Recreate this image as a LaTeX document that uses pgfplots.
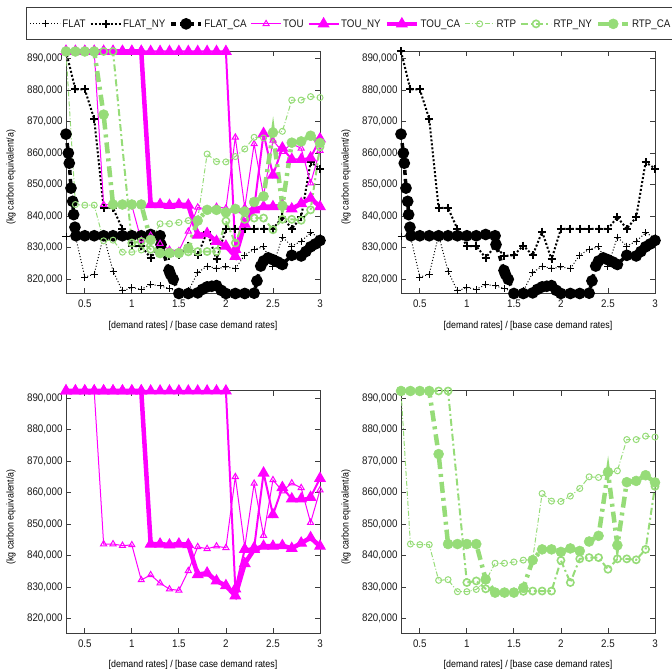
\documentclass[border=0pt]{standalone}
\usepackage{fontspec}
\setmainfont{Liberation Sans}[FakeStretch=0.89]
\usepackage{pgfplots}
\usepackage{pgfplotstable}
\pgfplotsset{compat=1.18}

\definecolor{mag}{RGB}{255,0,255}
\definecolor{grn}{RGB}{150,220,120}
\definecolor{axgray}{RGB}{60,60,60}

\pgfplotstableread{
x y
0.3 833700
0.4 833700
0.5 820700
0.6 821600
0.7 834000
0.8 822600
0.9 816300
1.0 817400
1.1 816800
1.2 818400
1.3 817900
1.4 817100
1.5 815800
1.6 816300
1.7 822100
1.8 824200
1.9 823400
2.0 823900
2.1 823400
2.2 827700
2.3 829500
2.4 830300
2.5 824200
2.6 833400
2.7 830500
2.8 832100
2.9 834700
3.0 833200
}\tFLAT

\pgfplotstableread{
x y
0.3 892200
0.4 880200
0.5 880200
0.6 870800
0.7 842600
0.8 842600
0.9 835900
1.0 830500
1.1 830500
1.2 826800
1.3 830500
1.4 827400
1.5 827600
1.6 830700
1.7 827600
1.8 835100
1.9 826300
2.0 836000
2.1 836000
2.2 836000
2.3 836000
2.4 836000
2.5 836000
2.6 839700
2.7 836000
2.8 839700
2.9 857100
3.0 855100
}\tFLATNY

\pgfplotstableread{
x y
0.300 866000
0.325 860000
0.335 856800
0.353 848900
0.371 844700
0.381 840500
0.395 836500
0.406 833800
0.5 833800
0.6 833800
0.7 833800
0.8 833800
0.9 833800
1.0 833800
1.1 833800
1.2 834200
1.3 833800
1.31 831000
1.395 822800
1.41 821600
1.44 820000
1.5 815500
1.6 815500
1.7 815700
1.75 816800
1.8 817600
1.85 817800
1.9 818000
1.95 816500
2.0 815500
2.1 815500
2.2 815500
2.3 815600
2.33 819500
2.37 824200
2.4 825800
2.45 826800
2.5 826200
2.55 825500
2.6 824700
2.7 827600
2.8 827400
2.85 828800
2.9 830300
2.95 831200
3.0 832300
}\tFLATCA

\pgfplotstableread{
x y
0.3 892200
0.4 892200
0.5 892200
0.6 892200
0.7 843700
0.8 843700
0.9 843200
1.0 843400
1.1 832300
1.2 833900
1.3 831300
1.4 829400
1.5 829000
1.6 835200
1.7 842800
1.8 842200
1.9 843000
2.0 842500
2.1 865000
2.2 842700
2.3 862900
2.4 846400
2.5 864000
2.6 860500
2.7 863000
2.8 861500
2.9 850500
3.0 860800
}\tTOU

\pgfplotstableread{
x y
0.3 892200
0.4 892200
0.5 892200
0.6 892200
0.7 892200
0.8 892200
0.9 892200
1.0 892200
1.1 892200
1.2 892200
1.3 892200
1.4 892200
1.5 892200
1.6 892200
1.7 892200
1.8 892200
1.9 892200
2.0 892200
2.1 829500
2.2 842000
2.3 842500
2.4 866200
2.5 853000
2.6 861600
2.7 858000
2.8 858000
2.9 858500
3.0 864500
}\tTOUNY

\pgfplotstableread{
x y
0.3 892200
0.4 892200
0.5 892200
0.6 892200
0.7 892200
0.8 892200
0.9 892200
1.0 892200
1.1 892200
1.2 843700
1.3 843700
1.4 843400
1.5 843700
1.6 843500
1.7 834000
1.8 834500
1.9 832000
2.0 830500
2.1 827300
2.2 837500
2.3 842000
2.4 843000
2.5 843000
2.6 843200
2.7 842300
2.8 844000
2.9 845700
3.0 843000
}\tTOUCA

\pgfplotstableread{
x y
0.3 892200
0.4 843700
0.5 843500
0.6 843500
0.7 832200
0.8 832400
0.9 828600
1.0 828600
1.1 829300
1.2 832000
1.3 837600
1.4 837600
1.5 838000
1.6 838600
1.7 839000
1.8 859700
1.9 857300
2.0 857200
2.1 858900
2.2 861300
2.3 865000
2.4 864800
2.5 866300
2.6 866900
2.7 876800
2.8 876800
2.9 877900
3.0 877600
}\tRTP

\pgfplotstableread{
x y
0.3 892200
0.4 892200
0.5 892200
0.6 892200
0.7 892200
0.8 892200
1.0 831500
1.1 832000
1.2 829500
1.3 828500
1.4 828500
1.5 828500
1.6 828700
1.7 828800
1.8 828800
1.9 828800
2.0 838500
2.1 831500
2.2 839000
2.3 839400
2.4 839400
2.5 835700
2.6 839000
2.7 839000
2.8 838700
2.9 842000
3.0 862000
}\tRTPNY

\pgfplotstableread{
x y
0.3 892200
0.4 892200
0.5 892200
0.6 892200
0.7 872200
0.8 843700
0.9 843700
1.0 843700
1.1 843700
1.2 832500
1.3 828300
1.4 828300
1.5 828300
1.6 829800
1.7 838600
1.8 842000
1.9 842000
2.0 841200
2.1 842300
2.2 841500
2.3 844500
2.4 846300
2.5 866500
2.6 843300
2.7 863300
2.8 863700
2.9 865500
3.0 863200
}\tRTPCA

\pgfplotsset{
  sFLAT/.style={black, line width=1bp, dash pattern=on 1bp off 2bp, mark=+, mark size=3.5bp, mark options={solid, line width=1bp}},
  sFLATNY/.style={black, line width=2bp, dash pattern=on 2bp off 2bp, mark=+, mark size=4bp, mark options={solid, line width=2bp}},
  sFLATCA/.style={black, line width=3.5bp, dash pattern=on 5bp off 4bp, mark=*, mark size=4bp, mark options={solid, fill=black}},
  sTOU/.style={mag, line width=1bp, solid, mark=triangle, mark size=3.5bp, mark options={solid, line width=1bp}},
  sTOUNY/.style={mag, line width=2bp, solid, mark=triangle*, mark size=5bp, mark options={solid, fill=mag}},
  sTOUCA/.style={mag, line width=4.5bp, solid, mark=triangle*, mark size=6bp, mark options={solid, fill=mag, line width=1bp}},
  sRTP/.style={grn, line width=1bp, dash pattern=on 5bp off 2bp on 1bp off 2bp, mark=o, mark size=3bp, mark options={solid, line width=1bp}},
  sRTPNY/.style={grn, line width=2bp, dash pattern=on 7bp off 3bp on 2bp off 3bp, mark=o, mark size=3.6bp, mark options={solid, line width=1.6bp}},
  sRTPCA/.style={grn, line width=4.5bp, dash pattern=on 11bp off 5bp on 3bp off 5bp, mark=*, mark size=5bp, mark options={solid, fill=grn, line width=0.5bp}},
  panel/.style={
    scale only axis, width=254bp, height=242bp,
    anchor=south west,
    xmin=0.3, xmax=3, ymin=815500, ymax=892200,
    clip=false,
    scaled y ticks=false, scaled x ticks=false,
    xtick={0.5,1,1.5,2,2.5,3},
    xticklabels={0.5,1,1.5,2,2.5,3},
    ytick={820000,830000,840000,850000,860000,870000,880000,890000},
    yticklabels={{820,000},{830,000},{840,000},{850,000},{860,000},{870,000},{880,000},{890,000}},
    tick align=inside,
    major tick length=5bp,
    tick style={draw=axgray, line width=0.8bp},
    axis line style={draw=axgray, line width=1bp},
    tick label style={font=\fontsize{11bp}{12bp}\selectfont, text=black!90},
    x tick label style={yshift=-3bp},
    label style={font=\fontsize{11bp}{12bp}\selectfont, text=black!90},
    every axis x label/.style={at={(axis description cs:0.5,0)}, anchor=center, yshift=-32bp},
    every axis y label/.style={at={(axis description cs:-0.2165,0.48)}, rotate=90, anchor=center},
    xlabel={\relax[demand rates] / [base case demand rates]},
    ylabel={(kg carbon equivalent/a)},
    legend image code/.code={\draw[mark repeat=2,mark phase=2,##1] plot coordinates {(0bp,0bp) (15bp,0bp) (30bp,0bp)};},
  },
}

\begin{document}
\begin{tikzpicture}
\path[use as bounding box] (0,0) rectangle (672bp,669bp);

% top left: all
\begin{axis}[panel, at={(66bp,375.5bp)},
  legend columns=9,
  legend style={at={(axis description cs:-0.1575,1.184)}, anchor=north west,
    draw=axgray, line width=0.8bp, fill=white,
    inner xsep=3.5bp, inner ysep=10.5bp,
    nodes={inner sep=1.5bp, text depth=0pt, font=\fontsize{11bp}{12bp}\selectfont, text=black!90},
    /tikz/every even column/.append style={column sep=2.5bp}},
]
\addplot[sFLAT] table {\tFLAT};
\addplot[sFLATNY] table {\tFLATNY};
\addplot[sFLATCA] table {\tFLATCA};
\addplot[sTOU] table {\tTOU};
\addplot[sTOUNY] table {\tTOUNY};
\addplot[sTOUCA] table {\tTOUCA};
\addplot[sRTP] table {\tRTP};
\addplot[sRTPNY] table {\tRTPNY};
\addplot[sRTPCA] table {\tRTPCA};
\legend{FLAT,FLAT\_NY,FLAT\_CA,TOU,TOU\_NY,TOU\_CA,RTP,RTP\_NY,RTP\_CA}
\end{axis}

% top right: FLAT
\begin{axis}[panel, at={(401bp,375.5bp)}]
\addplot[sFLAT] table {\tFLAT};
\addplot[sFLATNY] table {\tFLATNY};
\addplot[sFLATCA] table {\tFLATCA};
\end{axis}

% bottom left: TOU
\begin{axis}[panel, at={(66bp,36bp)}]
\addplot[sTOU] table {\tTOU};
\addplot[sTOUNY] table {\tTOUNY};
\addplot[sTOUCA] table {\tTOUCA};
\end{axis}

% bottom right: RTP
\begin{axis}[panel, at={(401bp,36bp)}]
\addplot[sRTP] table {\tRTP};
\addplot[sRTPNY] table {\tRTPNY};
\addplot[sRTPCA] table {\tRTPCA};
\end{axis}
\end{tikzpicture}
\end{document}
